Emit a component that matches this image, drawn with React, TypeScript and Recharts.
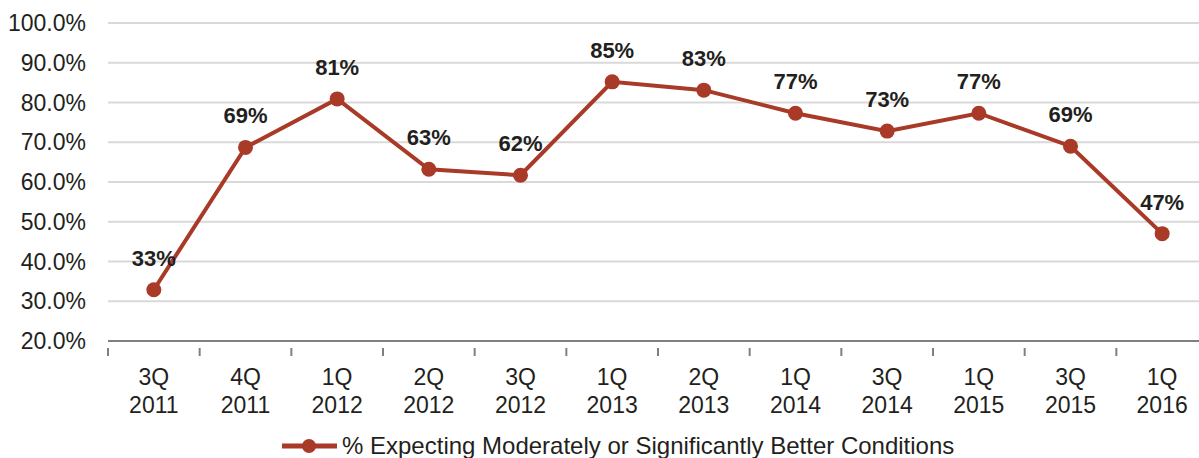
import React from 'react';
import { LineChart, Line, XAxis, YAxis, CartesianGrid, Legend, LabelList } from 'recharts';

const quarters = ['3Q', '4Q', '1Q', '2Q', '3Q', '1Q', '2Q', '1Q', '3Q', '1Q', '3Q', '1Q'];
const years = ['2011', '2011', '2012', '2012', '2012', '2013', '2013', '2014', '2014', '2015', '2015', '2016'];
const expecting = [32.9, 68.7, 80.9, 63.2, 61.7, 85.2, 83.1, 77.3, 72.8, 77.3, 69.0, 47.0];
const yTicks = [20, 30, 40, 50, 60, 70, 80, 90, 100];

const seriesName = '% Expecting Moderately or Significantly Better Conditions';
const red = '#a83a27';
const ink = '#231f20';
const font = '"Liberation Sans", Arial, sans-serif';

const chartW = 1208;
const yAxisW = 108;
const band = (chartW - yAxisW) / quarters.length;

const data = quarters.map((q, i) => ({ key: `${q} ${years[i]}`, q, year: years[i], value: expecting[i] }));

function XTick(props: any) {
  const { x, y, index } = props;
  const half = band / 2;
  const row = data[index] ?? data[0];
  return (
    <g>
      <line x1={x - half} y1={y - 1} x2={x - half} y2={y + 7} stroke="#808080" strokeWidth={2} />
      {index === data.length - 1 && (
        <line x1={x + half} y1={y - 1} x2={x + half} y2={y + 7} stroke="#808080" strokeWidth={2} />
      )}
      <text x={x} y={y + 36} textAnchor="middle" fontSize={23} fill={ink} fontFamily={font}>
        {row.q}
      </text>
      <text x={x} y={y + 64} textAnchor="middle" fontSize={23} fill={ink} fontFamily={font}>
        {row.year}
      </text>
    </g>
  );
}

function PointLabel(props: any) {
  const { x, y, value } = props;
  return (
    <text x={x} y={y - 24} textAnchor="middle" fontSize={22} fontWeight="bold" fill={ink} fontFamily={font}>
      {`${Math.round(value)}%`}
    </text>
  );
}

function LegendBox() {
  return (
    <div style={{ boxSizing: 'border-box', display: 'flex', alignItems: 'center', paddingLeft: 282, paddingTop: 24, height: 48, fontFamily: font }}>
      <svg width={58} height={20}>
        <line x1={0} y1={10} x2={55} y2={10} stroke={red} strokeWidth={5} />
        <circle cx={27} cy={10} r={7} fill={red} />
      </svg>
      <span style={{ fontSize: 24, color: ink, marginLeft: 2, lineHeight: '24px', whiteSpace: 'nowrap' }}>{seriesName}</span>
    </div>
  );
}

export default function App() {
  return (
    <div style={{ position: 'absolute', left: 0, top: 0, width: 1199, height: 458, overflow: 'hidden', background: '#fff' }}>
      <LineChart width={chartW} height={458} data={data} margin={{ top: 23, right: 0, left: 0, bottom: 0 }}>
        <CartesianGrid vertical={false} stroke="#d9d9d9" strokeWidth={2} />
        <XAxis
          dataKey="key"
          interval={0}
          height={69}
          padding={{ left: band / 2, right: band / 2 }}
          tick={<XTick />}
          tickLine={false}
          axisLine={{ stroke: '#808080', strokeWidth: 2 }}
        />
        <YAxis
          domain={[20, 100]}
          ticks={yTicks}
          width={yAxisW}
          tickLine={false}
          axisLine={false}
          tickMargin={16}
          tickFormatter={(v: number) => `${v.toFixed(1)}%`}
          tick={{ fontSize: 23, fill: ink, fontFamily: font }}
        />
        <Legend verticalAlign="bottom" height={48} content={<LegendBox />} />
        <Line
          type="linear"
          dataKey="value"
          name={seriesName}
          stroke={red}
          strokeWidth={4}
          dot={{ r: 7.5, fill: red, stroke: red, strokeWidth: 0 }}
          activeDot={false}
          isAnimationActive={false}
        >
          <LabelList dataKey="value" content={<PointLabel />} />
        </Line>
      </LineChart>
    </div>
  );
}
